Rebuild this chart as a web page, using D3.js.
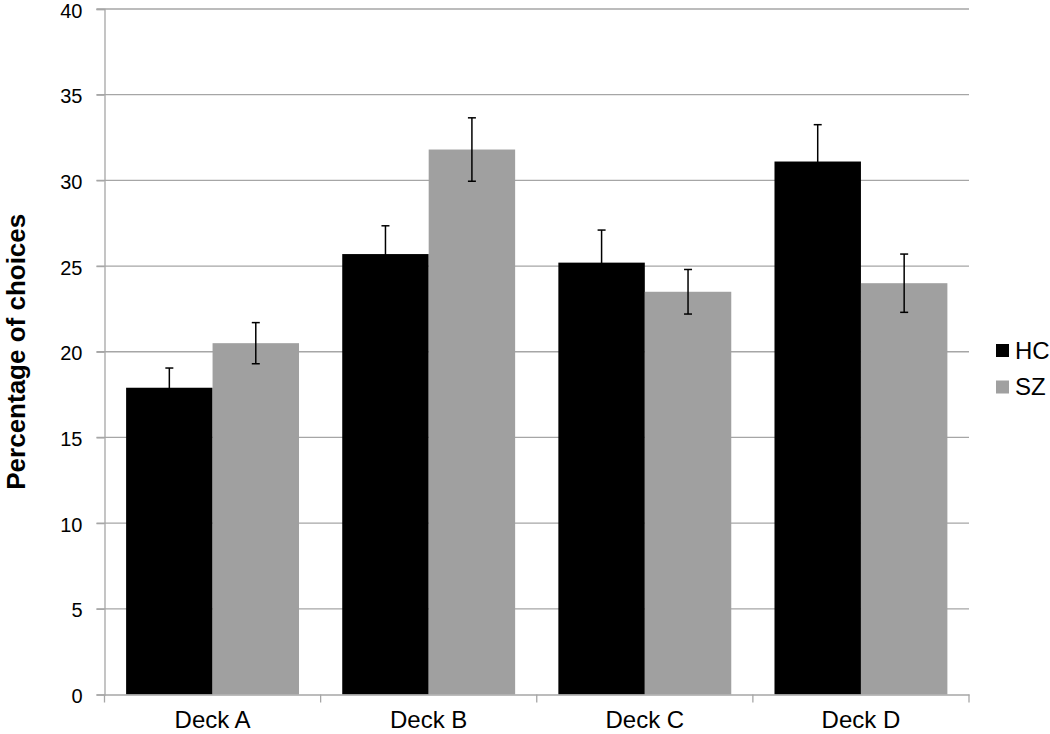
<!DOCTYPE html>
<html>
<head>
<meta charset="utf-8">
<script src="https://cdn.jsdelivr.net/npm/d3@7"></script>
<style>
  body { margin: 0; background: #fff; }
  svg { display: block; font-family: "Liberation Sans", Arial, sans-serif; }
</style>
</head>
<body>
<div class="container"></div>
<script>
var decks = ["Deck A", "Deck B", "Deck C", "Deck D"];
var groups = ["HC", "SZ"];
var hcValues = [17.9, 25.7, 25.2, 31.1];
var szValues = [20.5, 31.8, 23.5, 24.0];
var hcErrors = [1.15, 1.65, 1.9, 2.15];
var szErrors = [1.2, 1.85, 1.3, 1.7];
var yTicks = [0, 5, 10, 15, 20, 25, 30, 35, 40];

var colors = { HC: "#000000", SZ: "#a0a0a0" };

var w = 1050, h = 734;
var margin = {top: 9, right: 81, bottom: 39.5, left: 104.5};
var width = w - margin.left - margin.right,
    height = h - margin.top - margin.bottom;

var svg = d3.select(".container")
  .append("svg")
  .attr("width", w)
  .attr("height", h);

var g = svg.append("g")
  .attr("transform", "translate(" + margin.left + "," + margin.top + ")");

var xScale = d3.scaleBand()
  .domain(decks)
  .range([0, width])
  .paddingInner(0.2)
  .paddingOuter(0.1);
var xInner = d3.scaleBand()
  .domain(groups)
  .range([0, xScale.bandwidth()]);
var yScale = d3.scaleLinear()
  .domain([0, 40])
  .range([height, 0]);

// gridlines
g.append("g")
  .selectAll("line")
  .data(yTicks.slice(1))
  .enter()
  .append("line")
  .attr("x1", -8)
  .attr("x2", width)
  .attr("y1", function(d) { return yScale(d); })
  .attr("y2", function(d) { return yScale(d); })
  .attr("stroke", "#a6a6a6")
  .attr("stroke-width", 1.3);

// y axis
var yAxis = d3.axisLeft(yScale)
  .tickValues(yTicks)
  .tickSize(8)
  .tickPadding(14);
var yG = g.append("g").call(yAxis);
yG.select(".domain").attr("stroke", "#a6a6a6").attr("stroke-width", 1.3);
yG.selectAll(".tick line").attr("stroke", "#a6a6a6").attr("stroke-width", 1.3);
yG.selectAll(".tick text")
  .attr("dy", "0.4em")
  .style("font-size", "20px")
  .attr("fill", "#000");

// bars
var rows = decks.map(function(d, i) {
  return [
    {deck: d, key: "HC", value: hcValues[i], err: hcErrors[i]},
    {deck: d, key: "SZ", value: szValues[i], err: szErrors[i]}
  ];
});

var deckG = g.selectAll(".deck")
  .data(rows)
  .enter()
  .append("g")
  .attr("class", "deck")
  .attr("transform", function(d) { return "translate(" + xScale(d[0].deck) + ",0)"; });

deckG.selectAll("rect")
  .data(function(d) { return d; })
  .enter()
  .append("rect")
  .attr("x", function(d) { return xInner(d.key); })
  .attr("y", function(d) { return yScale(d.value); })
  .attr("width", xInner.bandwidth())
  .attr("height", function(d) { return height - yScale(d.value); })
  .attr("fill", function(d) { return colors[d.key]; });

// error bars
var errG = deckG.selectAll(".err")
  .data(function(d) { return d; })
  .enter()
  .append("g")
  .attr("class", "err")
  .attr("stroke", "#000")
  .attr("stroke-width", 1.5);
errG.append("line")
  .attr("x1", function(d) { return xInner(d.key) + xInner.bandwidth() / 2; })
  .attr("x2", function(d) { return xInner(d.key) + xInner.bandwidth() / 2; })
  .attr("y1", function(d) { return yScale(d.value - d.err); })
  .attr("y2", function(d) { return yScale(d.value + d.err); });
[1, -1].forEach(function(s) {
  errG.append("line")
    .attr("x1", function(d) { return xInner(d.key) + xInner.bandwidth() / 2 - 4; })
    .attr("x2", function(d) { return xInner(d.key) + xInner.bandwidth() / 2 + 4; })
    .attr("y1", function(d) { return yScale(d.value + s * d.err); })
    .attr("y2", function(d) { return yScale(d.value + s * d.err); });
});

// x axis
var xAxis = d3.axisBottom(xScale).tickSize(0).tickPadding(16);
var xG = g.append("g")
  .attr("transform", "translate(0," + height + ")")
  .call(xAxis);
xG.select(".domain").attr("stroke", "#a6a6a6").attr("stroke-width", 1.3);
xG.selectAll(".tick text")
  .style("font-size", "24px")
  .attr("fill", "#000");
// category separator ticks
var step = xScale.step();
g.append("g")
  .selectAll("line")
  .data(d3.range(decks.length + 1))
  .enter()
  .append("line")
  .attr("x1", function(i) { return i * step; })
  .attr("x2", function(i) { return i * step; })
  .attr("y1", height)
  .attr("y2", height + 8)
  .attr("stroke", "#a6a6a6")
  .attr("stroke-width", 1.3);

/* ===== LABELS ===== */
svg.append("text")
  .attr("transform", "translate(" + 25 + "," + (margin.top + height / 2) + ") rotate(-90)")
  .style("text-anchor", "middle")
  .style("font-size", "26px")
  .style("font-weight", "bold")
  .text("Percentage of choices");

// legend
var legend = svg.append("g")
  .attr("transform", "translate(996,344)");
var item = legend.selectAll("g")
  .data(groups)
  .enter()
  .append("g")
  .attr("transform", function(d, i) { return "translate(0," + i * 36.5 + ")"; });
item.append("rect")
  .attr("width", 13)
  .attr("height", 13)
  .attr("fill", function(d) { return colors[d]; });
item.append("text")
  .attr("x", 19)
  .attr("y", 14.5)
  .style("font-size", "24px")
  .text(function(d) { return d; });
</script>
</body>
</html>
